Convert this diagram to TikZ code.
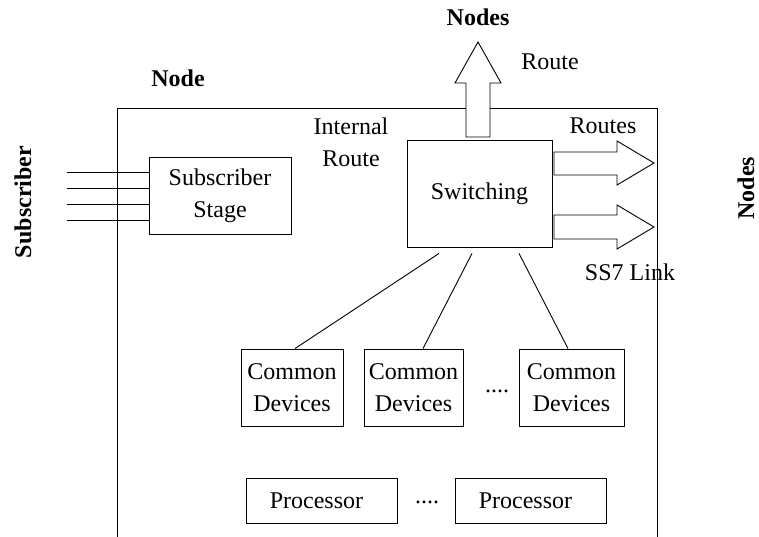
\documentclass[tikz,border=0pt]{standalone}
\usepackage{fontspec}
\setmainfont{Liberation Serif}
\usetikzlibrary{calc}
\begin{document}
\begin{tikzpicture}[x=1pt, y=-1pt, line width=0.9pt,
  every node/.style={font=\fontsize{24}{32}\selectfont, inner sep=0pt},
  blockbox/.style={draw, rectangle, align=center},
  boldlabel/.style={font=\fontsize{24}{32}\selectfont\bfseries},
  fatarrow/.style={draw, fill=white, line join=miter}]
\useasboundingbox (0,0) rectangle (759,537);

% node frame, open at the bottom
\coordinate (fbl) at (117,537);
\coordinate (ftl) at (117,108);
\coordinate (ftr) at (657,108);
\coordinate (fbr) at (657,537);
\draw (fbl) -- (ftl) -- (ftr) -- (fbr);
\node[boldlabel] (nodelbl) at (178,78) {Node};

% blocks
\node[blockbox, minimum width=142pt, minimum height=77pt] (sub) at (220,195.5) {Subscriber\\Stage};
\node[blockbox, minimum width=145pt, minimum height=107pt] (sw) at (479.5,193.5) {Switching};
\node[blockbox, minimum width=102pt, minimum height=77pt] (cd1) at (292,387.5) {Common\\Devices};
\node[blockbox, minimum width=99pt, minimum height=77pt] (cd2) at (413.5,387.5) {Common\\Devices};
\node[blockbox, minimum width=105pt, minimum height=77pt] (cd3) at (571.5,387.5) {Common\\Devices};
\node[blockbox, minimum width=151pt, minimum height=45pt] (p1) at (321.5,500.5) {Processor\hspace{10pt}};
\node[blockbox, minimum width=151pt, minimum height=45pt] (p2) at (530.5,500.5) {Processor\hspace{10pt}};
\node[anchor=base] (dots1) at (497,392) {....};
\node[anchor=base] (dots2) at (427,503) {....};

% subscriber lines
\foreach \i/\yy in {1/172, 2/188, 3/204, 4/220} {
  \coordinate (in\i) at (67,\yy);
  \draw (in\i) -- (in\i -| sub.west);
}
\node[boldlabel, rotate=90] (sublbl) at (23,202) {Subscriber};

% internal route
\draw ($(sub.east)+(0,-7.5)$) -- ($(sub.east)+(0,-7.5)$ -| sw.west);
\draw ($(sub.east)+(0,8.5)$) -- ($(sub.east)+(0,8.5)$ -| sw.west);
\node[align=center] (intlbl) at (351,142) {Internal\\Route};

% switching to common devices
\draw ($(sw.south)+(-40.5,6)$) -- ($(cd1.north)+(3,0)$);
\draw ($(sw.south)+(-7.5,6)$) -- ($(cd2.north)+(9.5,0)$);
\draw ($(sw.south)+(39.5,6)$) -- ($(cd3.north)+(-3.5,0)$);

% outgoing routes
\draw[fatarrow] (466,137) -- (466,83) -- (455,83) -- (478,42) -- (501,83) -- (490,83) -- (490,137) -- cycle;
\draw[fatarrow] (554,152) -- (617,152) -- (617,141) -- (654,163) -- (617,185) -- (617,175) -- (554,175) -- cycle;
\draw[fatarrow] (554,215) -- (617,215) -- (617,205) -- (654,227) -- (617,249) -- (617,239) -- (554,239) -- cycle;

\node[boldlabel] (nodestop) at (478,17) {Nodes};
\node (routelbl) at (550,62) {Route};
\node (routeslbl) at (603,126) {Routes};
\node (ss7lbl) at (630,272) {SS7 Link};
\node[boldlabel, rotate=90] (nodesright) at (746,188) {Nodes};
\end{tikzpicture}
\end{document}
